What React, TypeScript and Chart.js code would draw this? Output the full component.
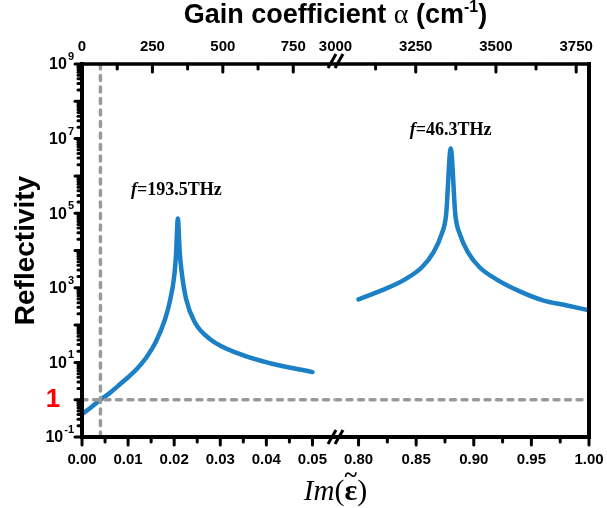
import React, { useEffect, useRef } from 'react';
import { Chart, registerables } from 'chart.js';
Chart.register(...registerables);

// ---- data ----
const leftIm = [0, 0.002, 0.004, 0.006, 0.008, 0.010, 0.012, 0.014, 0.016, 0.018, 0.019, 0.020, 0.0204, 0.0208, 0.0212, 0.0216, 0.0226, 0.0245, 0.0278, 0.0343, 0.0408, 0.050];
const leftR = [0.41, 0.63, 1.0, 1.5, 2.45, 4.0, 6.9, 13.8, 35, 141, 400, 2000, 7900, 72000, 9000, 2800, 490, 117, 42, 16.6, 9.5, 5.5];
const rightIm = [0.80, 0.82, 0.84, 0.855, 0.865, 0.872, 0.876, 0.88, 0.884, 0.888, 0.895, 0.905, 0.92, 0.94, 0.96, 0.98, 1.00];
const rightR = [490, 850, 1660, 3550, 8900, 27000, 91000, 5.4e6, 91000, 27000, 8900, 3550, 1660, 800, 460, 340, 250];

const bottomLeftRange = [0, 0.055];
const bottomRightRange = [0.78, 1.0];
const topLeftRange = [0, 900];
const topRightRange = [3000, 3790];

const bottomLeftTicks = [0, 0.01, 0.02, 0.03, 0.04, 0.05];
const bottomLeftMinor = [0.005, 0.015, 0.025, 0.035, 0.045];
const bottomRightTicks = [0.80, 0.85, 0.90, 0.95, 1.00];
const bottomRightMinor = [0.825, 0.875, 0.925, 0.975];
const topLeftTicks = [0, 250, 500, 750];
const topLeftMinor = [125, 375, 625];
const topRightTicks = [3000, 3250, 3500, 3750];
const topRightMinor = [3125, 3375, 3625];
const yLabelExps = [-1, 1, 3, 5, 7, 9];
const yRange = [0.1, 1e9];

const unityLevel = 1;
const thresholdIm = 0.004;

const annotations = [
  { axis: 'x1', x: 0.0205, y: 4.2e5, text: '=193.5THz' },
  { axis: 'x2', x: 0.88, y: 1.7e7, text: '=46.3THz' },
];

const BLUE = '#1b80c6';
const GRAY = '#9a9a9a';
const SANS = '"Liberation Sans", Arial, sans-serif';
const SERIF = '"Liberation Serif", "Times New Roman", serif';

const framePlugin = {
  id: 'frame',
  afterDraw(chart: any) {
    const ctx = chart.ctx as CanvasRenderingContext2D;
    const a = chart.chartArea;
    const s = chart.scales;
    ctx.save();
    ctx.strokeStyle = '#000';
    ctx.fillStyle = '#000';

    // frame
    ctx.lineWidth = 4;
    ctx.lineCap = 'square';
    ctx.beginPath();
    ctx.moveTo(a.left, a.top);
    ctx.lineTo(a.left, a.bottom);
    ctx.lineTo(a.right, a.bottom);
    ctx.lineTo(a.right, a.top);
    ctx.stroke();
    ctx.lineWidth = 3.5;
    ctx.beginPath();
    ctx.moveTo(a.left, a.top);
    ctx.lineTo(a.right, a.top);
    ctx.stroke();

    // ticks
    ctx.lineCap = 'round';
    ctx.lineWidth = 3;
    const tickX = (scale: any, vals: number[], y0: number, len: number) => {
      for (const v of vals) {
        const x = scale.getPixelForValue(v);
        ctx.beginPath();
        ctx.moveTo(x, y0);
        ctx.lineTo(x, y0 + len);
        ctx.stroke();
      }
    };
    tickX(s.x1, bottomLeftTicks, a.bottom, 8);
    tickX(s.x1, bottomLeftMinor, a.bottom, 5);
    tickX(s.x2, bottomRightTicks, a.bottom, 8);
    tickX(s.x2, bottomRightMinor, a.bottom, 5);
    tickX(s.xt1, topLeftTicks, a.top, 8);
    tickX(s.xt1, topLeftMinor, a.top, 5);
    tickX(s.xt2, topRightTicks.slice(1), a.top, 8);
    tickX(s.xt2, topRightMinor, a.top, 5);

    for (let e = -1; e <= 9; e++) {
      const y = s.y.getPixelForValue(Math.pow(10, e));
      ctx.beginPath();
      ctx.moveTo(a.left, y);
      ctx.lineTo(a.left - 7, y);
      ctx.stroke();
      if (e < 9) {
        for (let m = 2; m <= 9; m++) {
          const ym = s.y.getPixelForValue(m * Math.pow(10, e));
          ctx.beginPath();
          ctx.moveTo(a.left, ym);
          ctx.lineTo(a.left - 4, ym);
          ctx.stroke();
        }
      }
    }

    // break marks
    const bx = s.x1.right;
    ctx.lineWidth = 3;
    ctx.lineCap = 'butt';
    for (const yc of [a.top - 3, a.bottom]) {
      for (const dx of [-3.5, 3.5]) {
        ctx.beginPath();
        ctx.moveTo(bx + dx - 4, yc + 7);
        ctx.lineTo(bx + dx + 4, yc - 7);
        ctx.stroke();
      }
    }

    // tick labels
    ctx.font = `bold 15px ${SANS}`;
    ctx.textAlign = 'center';
    ctx.textBaseline = 'middle';
    for (const v of bottomLeftTicks) ctx.fillText(v.toFixed(2), s.x1.getPixelForValue(v), a.bottom + 23);
    for (const v of bottomRightTicks) ctx.fillText(v.toFixed(2), s.x2.getPixelForValue(v), a.bottom + 23);
    ctx.font = `bold 15px ${SANS}`;
    for (const v of topLeftTicks) ctx.fillText(String(v), s.xt1.getPixelForValue(v), a.top - 17);
    for (const v of topRightTicks) ctx.fillText(String(v), s.xt2.getPixelForValue(v), a.top - 17);

    // y labels with superscripts
    for (const e of yLabelExps) {
      const y = s.y.getPixelForValue(Math.pow(10, e));
      ctx.font = `bold 16px ${SANS}`;
      const wb = ctx.measureText('10').width;
      ctx.font = `bold 11px ${SANS}`;
      const ws = ctx.measureText(String(e)).width;
      const right = a.left - 8;
      const x0 = right - wb - ws - 1;
      ctx.textAlign = 'left';
      ctx.font = `bold 16px ${SANS}`;
      ctx.fillText('10', x0, y + 1);
      ctx.font = `bold 11px ${SANS}`;
      ctx.fillText(String(e), x0 + wb + 1, y - 7);
    }

    // red "1"
    ctx.fillStyle = '#ff0000';
    ctx.font = `bold 26px ${SANS}`;
    ctx.textAlign = 'center';
    ctx.fillText('1', 53, s.y.getPixelForValue(unityLevel));
    ctx.fillStyle = '#000';

    // left title
    ctx.save();
    ctx.translate(26, (a.top + a.bottom) / 2);
    ctx.rotate(-Math.PI / 2);
    ctx.font = `bold 28px ${SANS}`;
    ctx.textAlign = 'center';
    ctx.textBaseline = 'middle';
    ctx.fillText('Reflectivity', 0, 0);
    ctx.restore();

    // top title: Gain coefficient α (cm-1)
    {
      const cx = (a.left + a.right) / 2;
      const base = 23;
      const f1 = `bold 27px ${SANS}`;
      const fa = `28px ${SERIF}`;
      const fs = `bold 16px ${SANS}`;
      const parts: [string, string, number][] = [
        ['Gain coefficient ', f1, 0],
        ['α', fa, 0],
        [' (cm', f1, 0],
        ['-1', fs, -11],
        [')', f1, 0],
      ];
      let total = 0;
      for (const [t, f] of parts) { ctx.font = f; total += ctx.measureText(t).width; }
      let x = cx - total / 2;
      ctx.textAlign = 'left';
      ctx.textBaseline = 'alphabetic';
      for (const [t, f, dy] of parts) {
        ctx.font = f;
        ctx.fillText(t, x, base + dy);
        x += ctx.measureText(t).width;
      }
    }

    // bottom title: Im(ε~)
    {
      const cx = (a.left + a.right) / 2;
      const base = 500;
      const parts: [string, string][] = [
        ['Im', `italic 29px ${SERIF}`],
        ['(', `30px ${SERIF}`],
        ['ε', `bold 30px ${SERIF}`],
        [')', `30px ${SERIF}`],
      ];
      let total = 0;
      for (const [t, f] of parts) { ctx.font = f; total += ctx.measureText(t).width; }
      let x = cx - total / 2;
      ctx.textAlign = 'left';
      ctx.textBaseline = 'alphabetic';
      for (const [t, f] of parts) {
        ctx.font = f;
        const w = ctx.measureText(t).width;
        ctx.fillText(t, x, base);
        if (t === 'ε') {
          ctx.font = `bold 24px ${SERIF}`;
          ctx.textAlign = 'center';
          ctx.fillText('~', x + w / 2, base - 18);
          ctx.textAlign = 'left';
        }
        x += w;
      }
    }

    // annotations
    for (const an of annotations) {
      const px = s[an.axis].getPixelForValue(an.x);
      const py = s.y.getPixelForValue(an.y);
      const fi = `italic bold 18px ${SERIF}`;
      const fb = `bold 18px ${SERIF}`;
      ctx.font = fi;
      const w1 = ctx.measureText('f').width;
      ctx.font = fb;
      const w2 = ctx.measureText(an.text).width;
      let x = px - (w1 + w2) / 2;
      ctx.textAlign = 'left';
      ctx.textBaseline = 'middle';
      ctx.font = fi;
      ctx.fillText('f', x, py);
      ctx.font = fb;
      ctx.fillText(an.text, x + w1, py);
    }

    ctx.restore();
  },
};

const hiddenScale = (extra: any) => ({
  display: true,
  grid: { display: false, drawTicks: false },
  border: { display: false },
  ticks: { display: false },
  ...extra,
});

export default function App() {
  const ref = useRef<HTMLCanvasElement>(null);
  useEffect(() => {
    const canvas = ref.current!;
    const curve = (xs: number[], ys: number[], axis: string) => ({
      data: xs.map((x, i) => ({ x, y: ys[i] })),
      xAxisID: axis,
      yAxisID: 'y',
      borderColor: BLUE,
      borderWidth: 4.5,
      pointRadius: 0,
      cubicInterpolationMode: 'monotone',
      borderCapStyle: 'round',
      borderJoinStyle: 'round',
      fill: false,
    });
    const dashed = (pts: { x: number; y: number }[], axis: string) => ({
      data: pts,
      xAxisID: axis,
      yAxisID: 'y',
      borderColor: GRAY,
      borderWidth: 3.5,
      borderDash: [5, 6.5],
      borderCapStyle: 'round',
      pointRadius: 0,
      fill: false,
    });
    const chart = new Chart(canvas, {
      type: 'line',
      data: {
        datasets: [
          dashed([{ x: bottomLeftRange[0], y: unityLevel }, { x: bottomLeftRange[1], y: unityLevel }], 'x1'),
          dashed([{ x: bottomRightRange[0], y: unityLevel }, { x: bottomRightRange[1], y: unityLevel }], 'x2'),
          dashed([{ x: thresholdIm, y: yRange[0] }, { x: thresholdIm, y: yRange[1] }], 'x1'),
          curve(leftIm, leftR, 'x1'),
          curve(rightIm, rightR, 'x2'),
        ] as any,
      },
      options: {
        animation: false,
        responsive: false,
        maintainAspectRatio: false,
        layout: { padding: { left: 82, right: 18, top: 64, bottom: 71 } },
        plugins: { legend: { display: false }, tooltip: { enabled: false }, title: { display: false } },
        scales: {
          x1: hiddenScale({ type: 'linear', axis: 'x', position: 'bottom', stack: 'bottom', stackWeight: 1, min: bottomLeftRange[0], max: bottomLeftRange[1] }),
          x2: hiddenScale({ type: 'linear', axis: 'x', position: 'bottom', stack: 'bottom', stackWeight: 1, min: bottomRightRange[0], max: bottomRightRange[1] }),
          xt2: hiddenScale({ type: 'linear', axis: 'x', position: 'top', stack: 'top', stackWeight: 1, min: topRightRange[0], max: topRightRange[1] }),
          xt1: hiddenScale({ type: 'linear', axis: 'x', position: 'top', stack: 'top', stackWeight: 1, min: topLeftRange[0], max: topLeftRange[1] }),
          y: hiddenScale({ type: 'logarithmic', axis: 'y', position: 'left', min: yRange[0], max: yRange[1] }),
        },
      } as any,
      plugins: [framePlugin],
    });
    return () => chart.destroy();
  }, []);
  return (
    <div style={{ position: 'absolute', left: 0, top: 0, width: 607, height: 508, background: '#fff' }}>
      <canvas ref={ref} width={607} height={508} style={{ display: 'block', width: 607, height: 508 }} />
    </div>
  );
}
